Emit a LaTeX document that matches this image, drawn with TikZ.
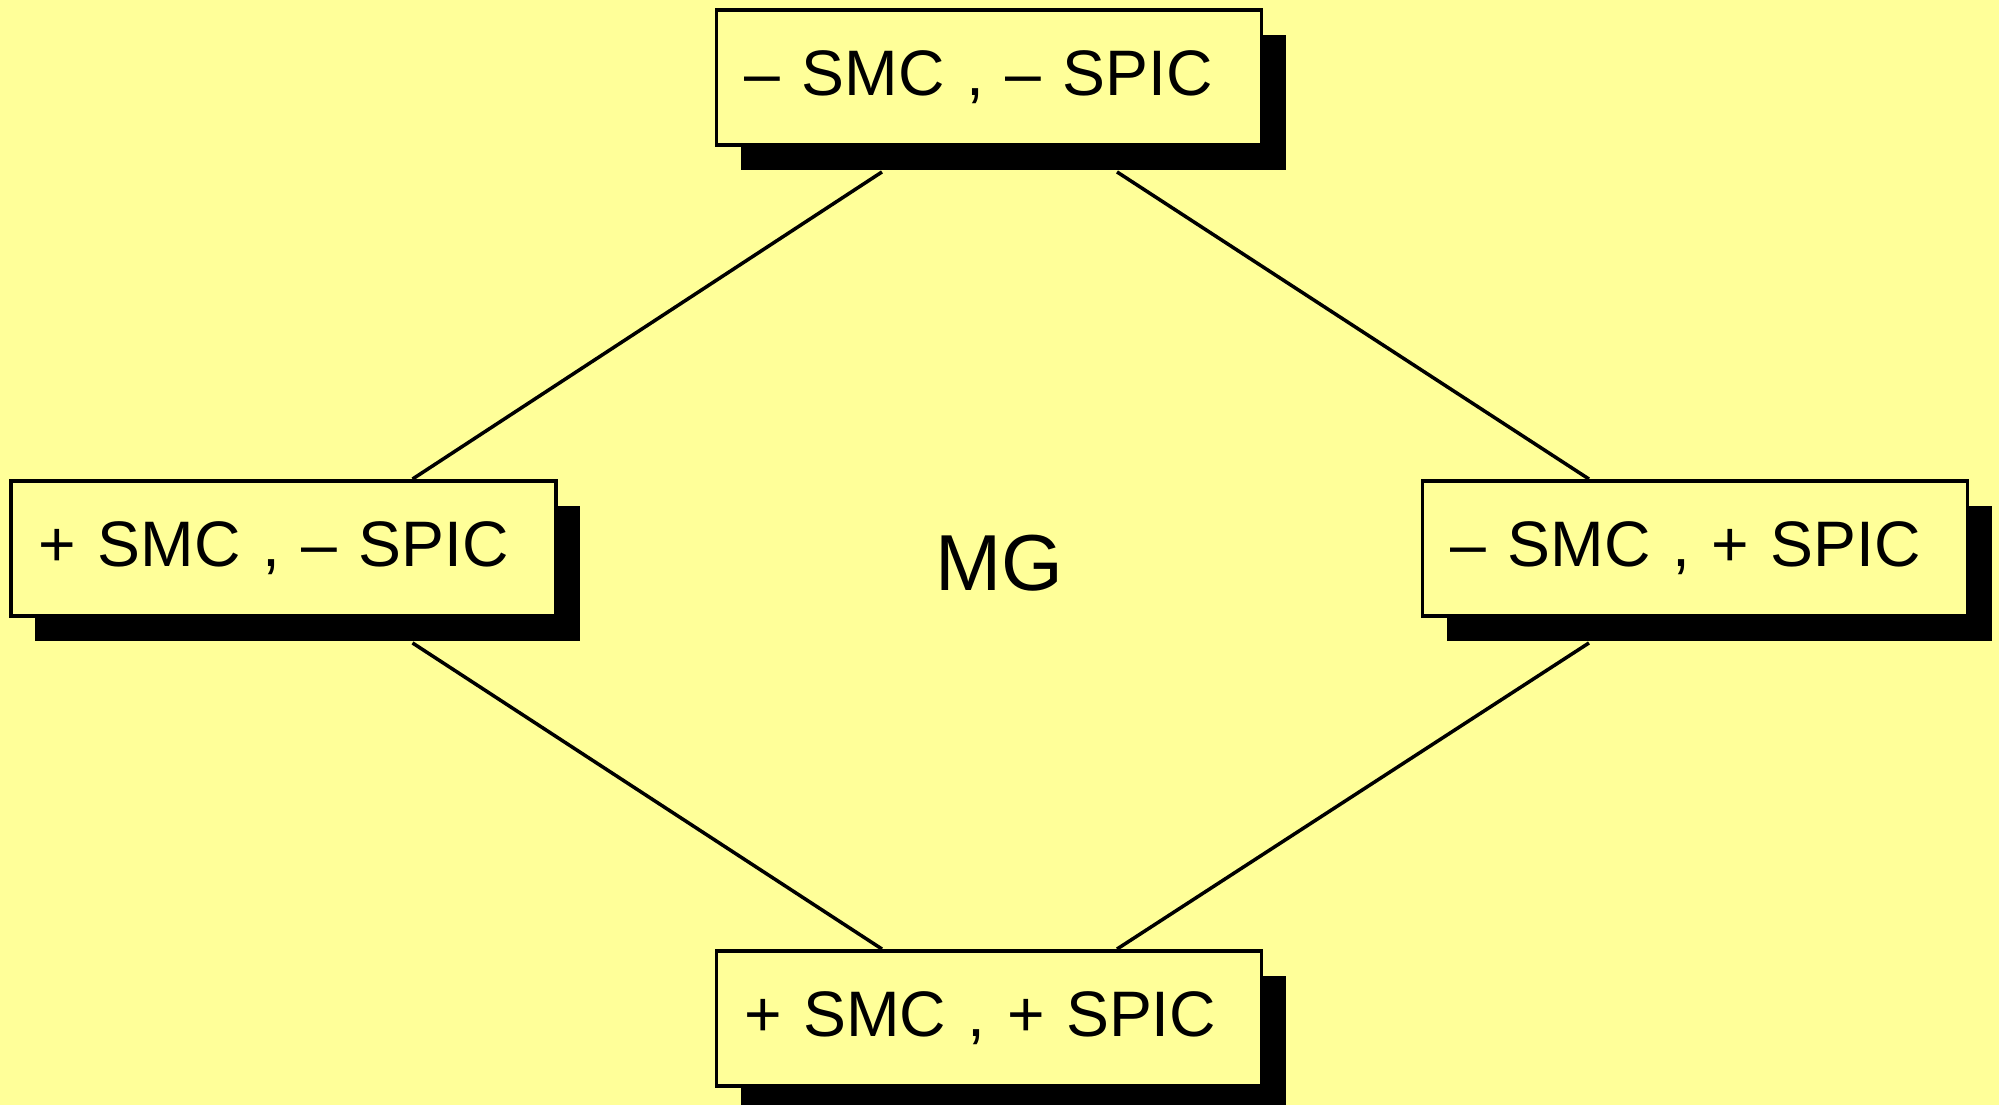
\documentclass[tikz,border=0pt]{standalone}
\usepackage{fontspec}
\setmainfont{Liberation Sans}
\usetikzlibrary{calc,shadows,positioning}
\definecolor{paleYellow}{HTML}{FFFF99}
\tikzset{
myState/.style={
	rectangle, draw=black, line width=1.1pt, fill=paleYellow,
	minimum width=5.45cm, minimum height=1.35cm,
	text width=4.89cm, align=left, inner xsep=0.28cm, inner ysep=0pt,
	font=\fontsize{18.3}{22}\selectfont,
	drop shadow={shadow xshift=0.24cm, shadow yshift=-0.25cm, fill=black, opacity=1}
}
, myLabel/.style={font=\fontsize{22.6}{26}\selectfont}
% link
, myLink/.style={line width=1pt}
}

\begin{document}
\begin{tikzpicture}
	\useasboundingbox (0,0) rectangle (19.99,11.05);
	\fill[paleYellow] (0,0) rectangle (19.99,11.05);
	% states
	\node[myState] (Top)    at ( 9.89,10.275) {-- SMC , -- SPIC};
	\node[myState] (Left)   at ( 2.835,5.565) {+ SMC , -- SPIC};
	\node[myState] (Right)  at (16.95, 5.565) {-- SMC , + SPIC};
	\node[myState] (Bottom) at ( 9.89, 0.865) {+ SMC , + SPIC};
	\node[myLabel] (Mg)     at ( 9.99, 5.42)  {MG};

	% links
	\draw [myLink] ($(Top.south)+(-1.07,-0.25)$) -- ($(Left.north)+(1.29,0)$);
	\draw [myLink] ($(Top.south)+(1.28,-0.25)$) -- ($(Right.north)+(-1.06,0)$);
	\draw [myLink] ($(Left.south)+(1.29,-0.25)$) -- ($(Bottom.north)+(-1.07,0)$);
	\draw [myLink] ($(Right.south)+(-1.06,-0.25)$) -- ($(Bottom.north)+(1.28,0)$);
\end{tikzpicture}
\end{document}
